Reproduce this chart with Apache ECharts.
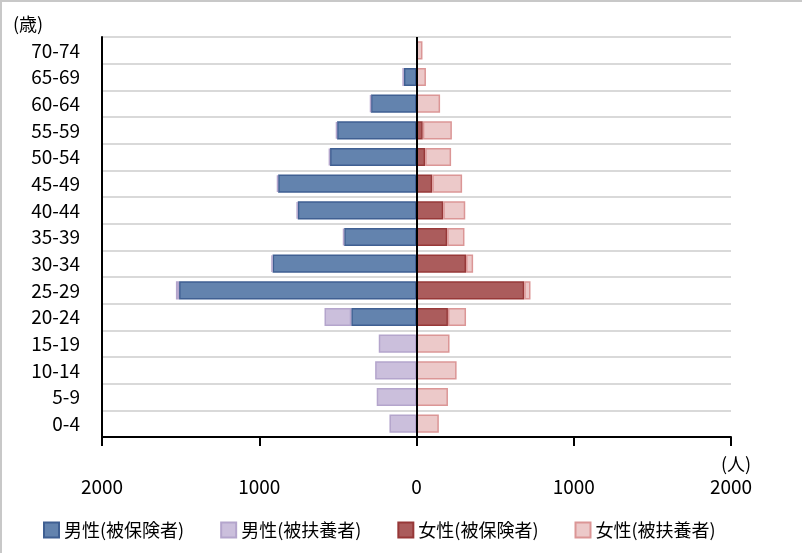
<!DOCTYPE html>
<html><head><meta charset="utf-8">
<script src="https://cdn.jsdelivr.net/npm/echarts@6/dist/echarts.min.js"></script>
<style>
html,body{margin:0;padding:0;background:#fff;}
#wrap{position:absolute;left:0;top:0;width:802px;height:553px;border-top:2px solid #c8c8c8;border-left:2px solid #c8c8c8;box-sizing:border-box;}
#c{position:absolute;left:-2px;top:-2px;width:802px;height:553px;}
</style></head>
<body><div id="wrap"><div id="c"></div></div>
<script>
const categories = ['70-74','65-69','60-64','55-59','50-54','45-49','40-44','35-39','30-34','25-29','20-24','15-19','10-14','5-9','0-4'];
const maleInsured     = [0, 80, 290, 505, 550, 880, 755, 460, 915, 1510, 415, 0, 0, 0, 0];
const maleDependent   = [0, 10, 5, 8, 8, 8, 8, 8, 8, 20, 170, 240, 263, 253, 172];
const femaleInsured   = [0, 0, 0, 40, 55, 100, 170, 195, 315, 685, 200, 0, 0, 0, 0];
const femaleDependent = [38, 60, 150, 185, 165, 190, 140, 110, 45, 40, 115, 210, 255, 200, 142];
const xTicks = [-2000, -1000, 0, 1000, 2000];
const seriesNames = ['男性(被保険者)','男性(被扶養者)','女性(被保険者)','女性(被扶養者)'];

const FONT = '"Noto Sans CJK JP","Noto Sans",sans-serif';
const chart = echarts.init(document.getElementById('c'));
// zero values are drawn as no bar (null), negative values for the male side
const side = (a, sign) => a.map(v => v === 0 ? null : sign * v);
function bar(name, data, fill, stroke){
  return {name, type:'bar', stack:'all', data, barCategoryGap:'32%',
    itemStyle:{color:fill, borderColor:stroke, borderWidth:1.5},
    emphasis:{disabled:true}};
}
const s = [
  bar(seriesNames[0], side(maleInsured, -1), '#6383ae', '#3f5f92'),
  bar(seriesNames[1], side(maleDependent, -1), '#cbbfdc', '#b4a5cc'),
  bar(seriesNames[2], side(femaleInsured, 1), '#ab5c5c', '#973838'),
  bar(seriesNames[3], side(femaleDependent, 1), '#ecc9c9', '#db9696')
];
s[3].markLine = {silent:true, symbol:'none', label:{show:false},
  lineStyle:{color:'#000', width:2, type:'solid'}, data:[{xAxis:0}]};
chart.setOption({
  animation:false,
  textStyle:{fontFamily:FONT},
  title:[
    {text:'(歳)', left:8, top:10, textStyle:{fontSize:18, fontWeight:'normal', color:'#000', fontFamily:FONT}},
    {text:'(人)', left:716, top:450, textStyle:{fontSize:18, fontWeight:'normal', color:'#000', fontFamily:FONT}}
  ],
  legend:{bottom:9, left:38, itemWidth:15, itemHeight:15, itemGap:36,
    icon:'rect', textStyle:{fontSize:18, color:'#000', fontFamily:FONT},
    data:seriesNames},
  grid:{left:102, right:71, top:37, bottom:116, containLabel:false},
  xAxis:{type:'value', min:xTicks[0], max:xTicks[xTicks.length-1], interval:1000,
    axisLine:{show:true, onZero:false, lineStyle:{color:'#000', width:2}},
    axisTick:{show:true, length:9, lineStyle:{color:'#000', width:2}},
    splitLine:{show:false},
    axisLabel:{margin:40, fontSize:19, color:'#000', fontFamily:FONT,
      formatter:v => String(Math.abs(v))}},
  yAxis:{type:'category', data:categories, inverse:true,
    axisLine:{show:true, onZero:false, lineStyle:{color:'#000', width:2}},
    axisTick:{show:false},
    splitLine:{show:true, lineStyle:{color:'#d9d9d9', width:2}},
    axisLabel:{margin:22, fontSize:19, color:'#000', fontFamily:FONT}},
  series:s
});
</script></body></html>
